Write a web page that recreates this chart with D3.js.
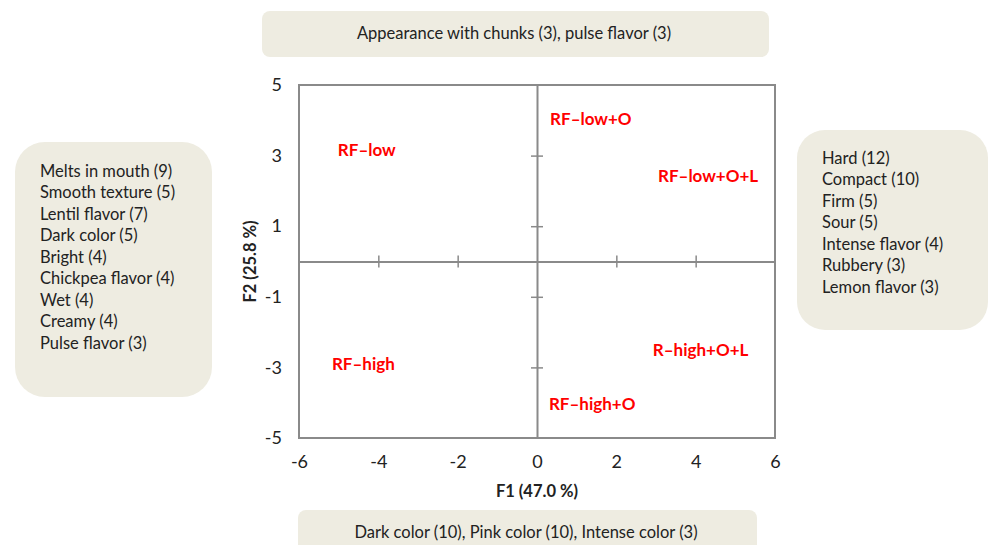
<!DOCTYPE html>
<html>
<head>
<meta charset="utf-8">
<script src="https://cdn.jsdelivr.net/npm/d3@7"></script>
<style>
  html, body { margin: 0; padding: 0; background: #fff; }
  svg { display: block; }
</style>
</head>
<body>
<div id="chart"></div>
<script>
// PCA map: sample positions (F1, F2)
const samples = ['RF\u2013low', 'RF\u2013low+O', 'RF\u2013low+O+L', 'RF\u2013high', 'R\u2013high+O+L', 'RF\u2013high+O'];
const f1 = [-5.02, 0.33, 3.05, -5.17, 2.92, 0.30];
const f2 = [3.16, 4.04, 2.42, -2.90, -2.51, -4.04];

const f1Ticks = [-6, -4, -2, 0, 2, 4, 6];
const f2Ticks = [5, 3, 1, -1, -3, -5];

// descriptor boxes around the map
const topTerms = ['Appearance with chunks (3), pulse flavor (3)'];
const bottomTerms = ['Dark color (10), Pink color (10), Intense color (3)'];
const leftTerms = ['Melts in mouth (9)', 'Smooth texture (5)', 'Lentil flavor (7)', 'Dark color (5)',
  'Bright (4)', 'Chickpea flavor (4)', 'Wet (4)', 'Creamy (4)', 'Pulse flavor (3)'];
const rightTerms = ['Hard (12)', 'Compact (10)', 'Firm (5)', 'Sour (5)', 'Intense flavor (4)',
  'Rubbery (3)', 'Lemon flavor (3)'];

const width = 989, height = 545;
const font = 'Lato, "Open Sans", sans-serif';
const textColor = '#222';
const lineColor = '#8a8a8a';
const boxFill = '#eeece1';

const plot = { left: 299, top: 85, right: 775, bottom: 438 };

const svg = d3.select('#chart')
  .append('svg')
  .attr('width', width)
  .attr('height', height)
  .style('font-family', font);

const x = d3.scaleLinear().domain([-6, 6]).range([plot.left, plot.right]);
const y = d3.scaleLinear().domain([-5, 5]).range([plot.bottom, plot.top]);

// boxes
const boxes = [
  { x: 262, y: 11, w: 507, h: 46, r: 8, lines: topTerms, align: 'middle', tx: 514, ty: 33 },
  { x: 298, y: 510, w: 459, h: 50, r: 8, lines: bottomTerms, align: 'middle', tx: 526, ty: 532 },
  { x: 15, y: 142, w: 197, h: 255, r: 30, lines: leftTerms, align: 'start', tx: 40, ty: 171 },
  { x: 797, y: 130, w: 191, h: 200, r: 28, lines: rightTerms, align: 'start', tx: 822, ty: 158 }
];

boxes.forEach(b => {
  svg.append('rect')
    .attr('x', b.x).attr('y', b.y)
    .attr('width', b.w).attr('height', b.h)
    .attr('rx', b.r).attr('ry', b.r)
    .attr('fill', boxFill);
  svg.append('g')
    .selectAll('text')
    .data(b.lines)
    .enter()
    .append('text')
      .attr('x', b.tx)
      .attr('y', (d, i) => b.ty + i * 21.5)
      .attr('dy', '0.35em')
      .attr('text-anchor', b.align)
      .attr('fill', textColor)
      .style('font-size', '16.5px')
      .text(d => d);
});

// frame
svg.append('rect')
  .attr('x', plot.left).attr('y', plot.top)
  .attr('width', plot.right - plot.left)
  .attr('height', plot.bottom - plot.top)
  .attr('fill', 'none')
  .attr('stroke', lineColor)
  .attr('stroke-width', 2);

// zero lines with crossing ticks
const xZero = svg.append('g')
  .attr('transform', `translate(0,${y(0)})`)
  .call(d3.axisBottom(x).tickValues([-4, -2, 2, 4]).tickSize(6).tickSizeOuter(0).tickFormat(''));
const yZero = svg.append('g')
  .attr('transform', `translate(${x(0)},0)`)
  .call(d3.axisLeft(y).tickValues([3, 1, -1, -3]).tickSize(6).tickSizeOuter(0).tickFormat(''));

[xZero, yZero].forEach(g => {
  g.select('.domain').attr('stroke', lineColor).attr('stroke-width', 2);
  g.selectAll('.tick line').attr('stroke', lineColor).attr('stroke-width', 1.5);
});
xZero.selectAll('.tick line').attr('y1', -6).attr('y2', 6);
yZero.selectAll('.tick line').attr('x1', -6).attr('x2', 6);

// tick labels around the frame
const xLabels = svg.append('g')
  .attr('transform', `translate(0,${plot.bottom})`)
  .call(d3.axisBottom(x).tickValues(f1Ticks).tickSize(0).tickPadding(17));
const yLabels = svg.append('g')
  .attr('transform', `translate(${plot.left},0)`)
  .call(d3.axisLeft(y).tickValues(f2Ticks).tickSize(0).tickPadding(17));

[xLabels, yLabels].forEach(g => {
  g.select('.domain').remove();
  g.selectAll('text')
    .attr('fill', textColor)
    .style('font-family', font)
    .style('font-size', '18px')
    .text(d => d < 0 ? '-' + Math.abs(d) : String(d));
});

// axis titles
svg.append('text')
  .attr('x', x(0))
  .attr('y', 491)
  .attr('dy', '0.35em')
  .attr('text-anchor', 'middle')
  .attr('fill', textColor)
  .style('font-size', '16.5px')
  .style('font-weight', 'bold')
  .text('F1 (47.0 %)');

svg.append('text')
  .attr('transform', `translate(250,${y(0)}) rotate(-90)`)
  .attr('dy', '0.35em')
  .attr('text-anchor', 'middle')
  .attr('fill', textColor)
  .style('font-size', '16.5px')
  .style('font-weight', 'bold')
  .text('F2 (25.8 %)');

// sample labels
svg.append('g')
  .selectAll('text')
  .data(samples)
  .enter()
  .append('text')
    .attr('x', (d, i) => x(f1[i]))
    .attr('y', (d, i) => y(f2[i]))
    .attr('dy', '0.35em')
    .attr('fill', '#ff0000')
    .style('font-size', '17px')
    .style('font-weight', 'bold')
    .text(d => d);
</script>
</body>
</html>
